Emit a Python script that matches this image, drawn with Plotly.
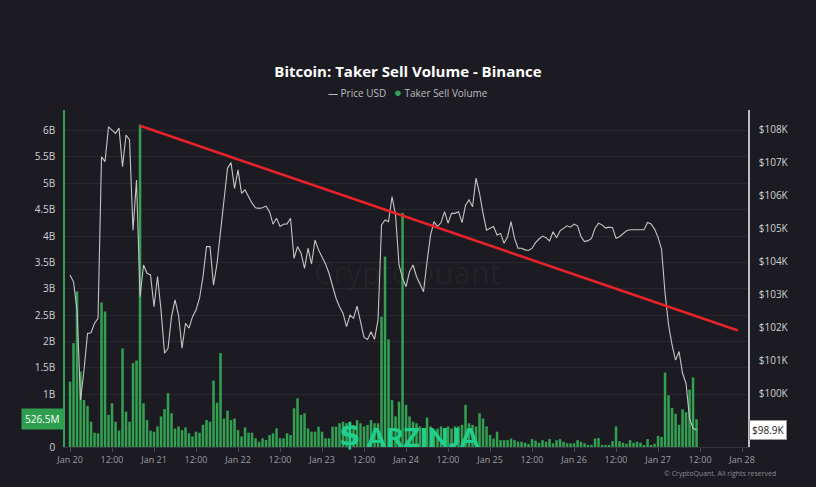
import pandas as pd
import plotly.graph_objects as go

# ---------------- data (hourly, starting Jan 20 00:00) ----------------
start_time = "2025-01-20 00:00"

volume_b = [
    1.24, 1.97, 2.95, 1.43, 0.89, 0.78, 0.48, 0.27, 0.26, 2.74,
    2.57, 0.61, 0.83, 0.48, 0.31, 1.87, 0.67, 0.48, 1.59, 1.64,
    6.11, 0.83, 0.51, 0.31, 0.29, 0.39, 0.58, 0.72, 1.02, 0.64,
    0.35, 0.39, 0.32, 0.37, 0.26, 0.20, 0.29, 0.27, 0.42, 0.51,
    0.48, 1.26, 0.84, 1.78, 0.54, 0.69, 0.51, 0.54, 0.32, 0.20,
    0.37, 0.27, 0.27, 0.165, 0.10, 0.165, 0.133, 0.228, 0.26, 0.354,
    0.165, 0.165, 0.26, 0.228, 0.734, 0.924, 0.608, 0.64, 0.354, 0.29,
    0.29, 0.386, 0.29, 0.165, 0.165, 0.386, 0.386, 0.45, 0.48, 0.45,
    0.48, 0.42, 0.51, 0.45, 0.39, 0.42, 0.51, 0.45, 0.45, 2.47,
    3.61, 2.04, 0.89, 0.58, 0.86, 4.44, 0.80, 0.58, 0.48, 0.45,
    0.39, 0.35, 0.56, 0.39, 0.32, 0.35, 0.39, 0.35, 0.39, 0.35,
    0.39, 0.39, 0.42, 0.80, 0.45, 0.42, 0.39, 0.64, 0.54, 0.39,
    0.23, 0.16, 0.29, 0.13, 0.13, 0.13, 0.16, 0.13, 0.10, 0.10,
    0.08, 0.06, 0.15, 0.12, 0.08, 0.13, 0.10, 0.15, 0.07, 0.13,
    0.15, 0.10, 0.07, 0.07, 0.07, 0.13, 0.10, 0.07, 0.04, 0.04,
    0.16, 0.17, 0.04, 0.04, 0.02, 0.11, 0.39, 0.11, 0.08, 0.06,
    0.13, 0.08, 0.10, 0.08, 0.03, 0.15, 0.03, 0.06, 0.21, 0.19,
    1.41, 0.98, 0.74, 0.63, 0.42, 0.715, 0.66, 1.09, 1.32, 0.5265,
]

price_k = [
    103.59, 103.38, 102.52, 99.79, 100.70, 101.81, 101.83, 102.12, 102.27, 107.18,
    107.03, 108.09, 107.99, 107.89, 108.05, 106.88, 107.84, 107.69, 104.95, 106.47,
    102.93, 103.89, 103.64, 103.59, 102.62, 103.54, 102.52, 101.21, 101.36, 102.32,
    102.83, 102.37, 101.36, 102.12, 101.97, 102.32, 102.52, 102.88, 103.54, 104.45,
    104.45, 103.28, 103.94, 104.85, 105.77, 106.83, 107.00, 106.22, 106.78, 106.07,
    106.17, 105.97, 105.77, 105.63, 105.61, 105.63, 105.68, 105.51, 105.13, 105.31,
    105.06, 105.13, 105.14, 105.31, 104.09, 104.45, 104.25, 103.79, 104.40, 103.92,
    104.65, 104.35, 104.14, 103.92, 103.64, 103.23, 102.88, 102.62, 102.42, 102.02,
    102.37, 102.27, 102.64, 102.17, 101.69, 101.63, 101.86, 101.63, 102.22, 105.11,
    105.26, 105.21, 105.97, 105.41, 103.89, 103.49, 103.23, 103.69, 103.89, 103.54,
    103.28, 103.08, 103.99, 104.80, 105.21, 105.06, 105.18, 105.51, 105.16, 105.46,
    105.46, 105.51, 105.18, 105.71, 105.87, 105.66, 106.53, 106.07, 105.46, 104.95,
    105.01, 105.06, 104.80, 104.85, 104.55, 104.75, 105.21, 104.70, 104.40, 104.40,
    104.35, 104.33, 104.40, 104.57, 104.68, 104.77, 104.72, 104.62, 104.90, 104.72,
    104.93, 105.01, 105.08, 105.04, 105.13, 105.08, 104.75, 104.60, 104.63, 104.70,
    105.01, 105.16, 105.11, 105.01, 105.04, 105.02, 104.70, 104.75, 104.85, 104.93,
    104.96, 104.96, 104.97, 104.96, 104.96, 105.18, 105.14, 104.98, 104.73, 104.37,
    103.03, 102.07, 101.46, 101.00, 101.26, 100.60, 100.29, 99.23, 98.93, 98.88,
]

# hand-drawn resistance line (time, price in K)
trend_time = ["2025-01-20 20:00", "2025-01-27 22:50"]
trend_price_k = [108.12, 101.90]

left_tick_vals = [0, 1, 1.5, 2, 2.5, 3, 3.5, 4, 4.5, 5, 5.5, 6]
left_tick_text = ["0", "1B", "1.5B", "2B", "2.5B", "3B", "3.5B", "4B", "4.5B", "5B", "5.5B", "6B"]
right_tick_vals = [100, 101, 102, 103, 104, 105, 106, 107, 108]
right_tick_text = ["$100K", "$101K", "$102K", "$103K", "$104K", "$105K", "$106K", "$107K", "$108K"]
x_tick_vals = ["2025-01-20 00:00", "2025-01-20 12:00", "2025-01-21 00:00", "2025-01-21 12:00",
               "2025-01-22 00:00", "2025-01-22 12:00", "2025-01-23 00:00", "2025-01-23 12:00",
               "2025-01-24 00:00", "2025-01-24 12:00", "2025-01-25 00:00", "2025-01-25 12:00",
               "2025-01-26 00:00", "2025-01-26 12:00", "2025-01-27 00:00", "2025-01-27 12:00",
               "2025-01-28 00:00"]
x_tick_text = ["Jan 20", "12:00", "Jan 21", "12:00", "Jan 22", "12:00", "Jan 23", "12:00",
               "Jan 24", "12:00", "Jan 25", "12:00", "Jan 26", "12:00", "Jan 27", "12:00", "Jan 28"]

last_volume_label = "526.5M"
last_price_label = "$98.9K"

# ---------------- figure ----------------
times = pd.date_range(start_time, periods=len(price_k), freq="h")

BG = "#1b1b21"
GREEN = "#33a052"
LOGO = "#1ed08c"
FONT = "Open Sans"

fig = go.Figure()
fig.add_trace(go.Bar(
    x=times, y=volume_b, yaxis="y", name="Taker Sell Volume",
    marker=dict(color=GREEN, line=dict(width=0)),
    width=0.72 * 3600 * 1000, showlegend=False,
))
fig.add_trace(go.Scatter(
    x=times, y=price_k, yaxis="y2", name="Price USD", mode="lines",
    line=dict(color="#c4c4c8", width=1.1), showlegend=False,
))
fig.add_trace(go.Scatter(
    x=trend_time, y=trend_price_k, yaxis="y2", mode="lines",
    line=dict(color="#e8222b", width=2.6), showlegend=False, hoverinfo="skip",
))

# pixel helpers for paper coordinates (plot area 65..748 x, 110..447 y)
def px(xp):
    return (xp - 65) / 683.0

def py(yp):
    return (447 - yp) / 337.0

annotations = [
    dict(text="<span style='color:#bdbdc2'>— Price USD</span>   "
              "<span style='color:#2fa35a;font-size:13px'>●</span>"
              "<span style='color:#bdbdc2'> Taker Sell Volume</span>",
         xref="paper", yref="paper", x=px(408), y=py(92), showarrow=False,
         font=dict(size=10, family=FONT), xanchor="center", yanchor="middle"),
    dict(text="CryptoQuant", xref="paper", yref="paper", x=px(407), y=py(272),
         showarrow=False, font=dict(size=31, family=FONT, color="rgba(255,255,255,0.04)"),
         xanchor="center", yanchor="middle"),
    dict(text=last_volume_label, xref="paper", yref="y", x=0, y=volume_b[-1],
         xanchor="right", yanchor="middle", xshift=-1, showarrow=False,
         bgcolor="#2f9e4f", borderpad=3, font=dict(size=10, family=FONT, color="#ffffff")),
    dict(text=last_price_label, xref="paper", yref="y2", x=1, y=price_k[-1],
         xanchor="left", yanchor="middle", xshift=1, showarrow=False,
         bgcolor="#ffffff", bordercolor="#9a9a9a", borderwidth=1, borderpad=2,
         font=dict(size=10, family=FONT, color="#222222")),
    dict(text="<b>$</b>", xref="paper", yref="paper", x=px(350), y=py(434), showarrow=False,
         font=dict(size=31, family="DejaVu Sans", color=LOGO),
         xanchor="center", yanchor="middle"),
    dict(text="ARZINJA", xref="paper", yref="paper", x=px(423), y=py(436), showarrow=False,
         font=dict(size=27, family="Lato", color=LOGO, weight=900),
         xanchor="center", yanchor="middle"),
    dict(text="© CryptoQuant. All rights reserved", xref="paper", yref="paper",
         x=px(778), y=py(473), showarrow=False, xanchor="right", yanchor="middle",
         font=dict(size=7, family=FONT, color="#8a8a90")),
]

fig.update_layout(
    width=816, height=487,
    margin=dict(l=65, r=68, t=110, b=40, pad=0),
    paper_bgcolor=BG, plot_bgcolor=BG,
    font=dict(family=FONT, color="#cfcfd4"),
    title=dict(text="<b>Bitcoin: Taker Sell Volume - Binance</b>", x=0.5, xanchor="center",
               y=(487 - 72) / 487, yanchor="middle", yref="container",
               font=dict(size=15, family=FONT, color="#ffffff")),
    xaxis=dict(type="date", range=["2025-01-19 22:34", "2025-01-28 01:42"],
               tickvals=x_tick_vals, ticktext=x_tick_text, showgrid=False,
               ticks="outside", ticklen=4, tickcolor="#4a4a52",
               showline=True, linecolor="#34343c", linewidth=1,
               tickfont=dict(size=9, color="#9c9ca4"), zeroline=False),
    yaxis=dict(range=[0, 6.39], tickvals=left_tick_vals, ticktext=left_tick_text,
               showgrid=True, gridcolor="rgba(255,255,255,0.055)", gridwidth=1,
               showline=True, linecolor=GREEN, linewidth=1.5, zeroline=False,
               ticklabelstandoff=6, tickfont=dict(size=10, color="#d2d2d6")),
    yaxis2=dict(range=[98.36, 108.60], overlaying="y", side="right",
                tickvals=right_tick_vals, ticktext=right_tick_text,
                showgrid=False, showline=True, linecolor="#bdbdc2", linewidth=1.5,
                zeroline=False, ticklabelstandoff=7, tickfont=dict(size=10, color="#d2d2d6")),
    annotations=annotations,
)

page_fix = ("document.body.style.margin='0';document.body.style.padding='0';"
            "document.body.style.background='" + BG + "';"
            "document.documentElement.style.background='" + BG + "';")

fig.write_html("out.html", post_script=page_fix, config={"displayModeBar": False})
